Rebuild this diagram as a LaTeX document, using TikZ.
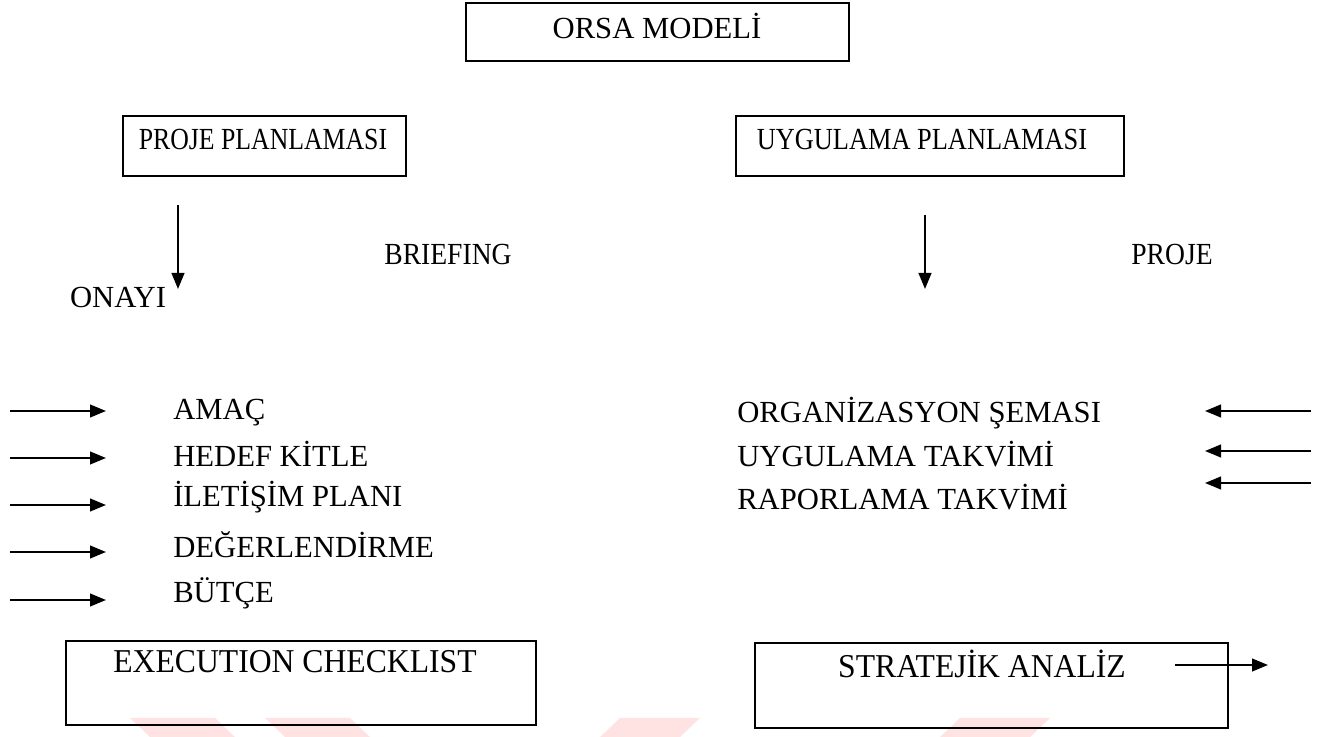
\documentclass[tikz,border=0pt]{standalone}
\usepackage{fontspec}
\setmainfont{Liberation Serif}
\usetikzlibrary{arrows.meta}
\begin{document}
\begin{tikzpicture}[x=0.75pt,y=-0.75pt,
  every node/.style={inner sep=0pt, font=\fontsize{23}{27}\selectfont},
  big/.style={font=\fontsize{25}{29}\selectfont},
  boxnode/.style={draw, line width=1.4pt, anchor=north west, minimum width=#1},
  lbl/.style={anchor=west},
  arr/.style={line width=1.6pt, -{Triangle[length=12pt,width=9.5pt]}},
  wm/.style={fill=red!11, draw=none}
]
\useasboundingbox (0,0) rectangle (1322,737);
% watermark
\fill[wm] (130,718) -- (215,718) -- (235,737) -- (150,737) -- cycle;
\fill[wm] (265,718) -- (350,718) -- (370,737) -- (285,737) -- cycle;
\fill[wm] (620,718) -- (700,718) -- (680,737) -- (600,737) -- cycle;
\fill[wm] (960,718) -- (1050,718) -- (1030,737) -- (940,737) -- cycle;
% boxes
\node[boxnode=383*0.75pt, minimum height=58*0.75pt] (orsaB) at (465,2) {};
\node (orsa) at (657,26) {ORSA MODELİ};
\node[boxnode=283*0.75pt, minimum height=60*0.75pt] (projB) at (122,115) {};
\node (proj) at (263,140) {\scalebox{0.84}[1]{PROJE PLANLAMASI}};
\node[boxnode=388*0.75pt, minimum height=60*0.75pt] (uygB) at (735,115) {};
\node (uyg) at (922,140) {\scalebox{0.86}[1]{UYGULAMA PLANLAMASI}};
\node[boxnode=470*0.75pt, minimum height=84*0.75pt] (execB) at (65,640) {};
\node[big] (exec) at (295,662) {\scalebox{0.95}[1]{EXECUTION CHECKLIST}};
\node[boxnode=473*0.75pt, minimum height=85*0.75pt] (stratB) at (754,642) {};
\node[big] (strat) at (982,664) {\scalebox{0.95}[1]{STRATEJİK ANALİZ}};
% middle labels
\node (brief) at (448,255) {\scalebox{0.9}[1]{BRIEFING}};
\node (onayi) at (118,298) {ONAYI};
\node (proje) at (1172,255) {\scalebox{0.9}[1]{PROJE}};
% left list
\node[lbl] (amac) at (173,413) {AMAÇ};
\node[lbl] (hedef) at (173,454) {HEDEF KİTLE};
\node[lbl] (ilet) at (173,497) {İLETİŞİM PLANI};
\node[lbl] (deger) at (173,545) {DEĞERLENDİRME};
\node[lbl] (butce) at (173,593) {BÜTÇE};
% right list
\node[lbl] (org) at (737,413) {ORGANİZASYON ŞEMASI};
\node[lbl] (uygt) at (737,454) {UYGULAMA TAKVİMİ};
\node[lbl] (rap) at (737,497) {RAPORLAMA TAKVİMİ};
% arrows
\coordinate (d1s) at (178,205); \coordinate (d1e) at (178,289);
\coordinate (d2s) at (925,215); \coordinate (d2e) at (925,289);
\draw[arr] (d1s) -- (d1e);
\draw[arr] (d2s) -- (d2e);
\foreach \y/\n in {411/a,458/b,505/c,552/d,600/e}{
  \coordinate (ls\n) at (10,\y); \coordinate (le\n) at (106,\y);
  \draw[arr] (ls\n) -- (le\n);
}
\foreach \y/\n in {411/a,451/b,483/c}{
  \coordinate (rs\n) at (1311,\y); \coordinate (re\n) at (1205,\y);
  \draw[arr] (rs\n) -- (re\n);
}
\coordinate (ss) at (1175,665);
\coordinate (se) at (1268,665);
\draw[arr] (ss) -- (se);
\end{tikzpicture}
\end{document}
